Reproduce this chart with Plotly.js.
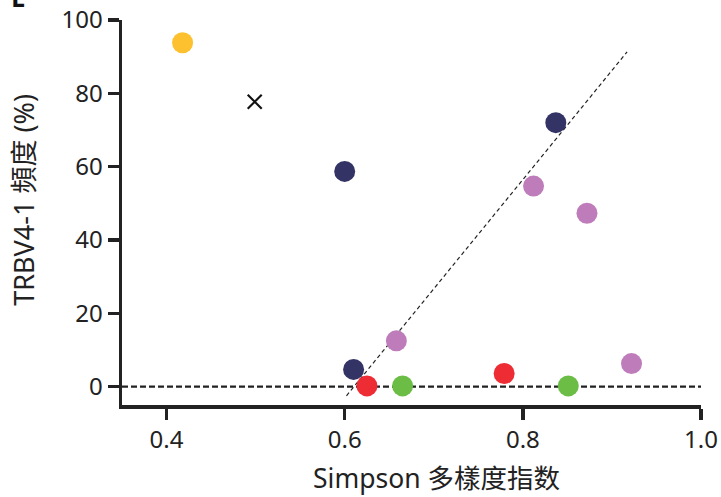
<!DOCTYPE html>
<html><head><meta charset="utf-8">
<script src="https://cdn.plot.ly/plotly-3.0.1.min.js"></script>
<style>html,body{margin:0;padding:0;background:#fff}#c{width:721px;height:497px}</style>
</head><body><div id="c"></div>
<script>
// Data
const groups = ['yellow','navy','purple','red','green'];
const colors = {yellow:'#FDC12F', navy:'#333366', purple:'#BE7DBA', red:'#EE2C34', green:'#6BBD45'};
const yellowX = [0.418];             const yellowY = [93.8];
const navyX   = [0.600, 0.837, 0.610]; const navyY   = [58.7, 72.0, 4.7];
const purpleX = [0.812, 0.872, 0.658, 0.922]; const purpleY = [54.7, 47.3, 12.5, 6.3];
const redX    = [0.625, 0.779];       const redY    = [0.2, 3.6];
const greenX  = [0.665, 0.851];       const greenY  = [0.2, 0.2];
const crossX  = [0.499];              const crossY  = [77.7];
const fitX    = [0.602, 0.917];       const fitY    = [-2.5, 91.3];
const zeroX   = [0.35, 1.0];          const zeroY   = [0, 0];
const xTicks  = [0.4, 0.6, 0.8, 1.0]; const xTickText = ['0.4','0.6','0.8','1.0'];
const yTicks  = [0, 20, 40, 60, 80, 100];
const xTitle = 'Simpson 多樣度指数';
const yTitle = 'TRBV4-1 頻度 (%)';

const series = {yellow:[yellowX,yellowY], navy:[navyX,navyY], purple:[purpleX,purpleY], red:[redX,redY], green:[greenX,greenY]};
const font = '"Noto Sans", "Noto Sans CJK TC", sans-serif';

const traces = [
  {x: zeroX, y: zeroY, mode:'lines', line:{color:'#222', width:2.2, dash:'6px,3px'}, hoverinfo:'skip'},
  {x: fitX, y: fitY, mode:'lines', line:{color:'#222', width:1.2, dash:'4px,3px'}, hoverinfo:'skip'},
  {x: crossX, y: crossY, mode:'markers', marker:{symbol:'x-thin', size:14, line:{color:'#111', width:2.2}}}
];
groups.forEach(g => {
  traces.push({x: series[g][0], y: series[g][1], mode:'markers', marker:{color:colors[g], size:21, line:{width:0}}});
});

const layout = {
  width:721, height:497, showlegend:false,
  paper_bgcolor:'#fff', plot_bgcolor:'#fff',
  margin:{l:122, r:20, t:20, b:92},
  font:{family:font, size:24, color:'#222'},
  xaxis:{range:[0.35,1.0], tickvals:xTicks, ticktext:xTickText, showgrid:false, zeroline:false,
    showline:true, linewidth:3.5, linecolor:'#222', ticks:'outside', ticklen:11, tickwidth:3.5, tickcolor:'#222',
    tickfont:{size:24}},
  yaxis:{range:[-5,100], tickvals:yTicks, showgrid:false, zeroline:false,
    showline:true, linewidth:3.5, linecolor:'#222', ticks:'outside', ticklen:11, tickwidth:3.5, tickcolor:'#222',
    tickfont:{size:24}},
  annotations:[
    {text:'<b>E</b>', xref:'paper', yref:'paper', x:-0.195, y:1.06, xanchor:'left', yanchor:'middle', showarrow:false, font:{size:26, color:'#111'}},
    {text:xTitle, xref:'paper', yref:'paper', x:0.544, y:-0.19, xanchor:'center', yanchor:'middle', showarrow:false, borderpad:0, font:{size:26.5, color:'#222'}},
    {text:yTitle, xref:'paper', yref:'paper', x:-0.170, y:0.532, xanchor:'center', yanchor:'middle', textangle:-90, showarrow:false, font:{size:27, color:'#222'}}
  ]
};
Plotly.newPlot('c', traces, layout, {staticPlot:true});
</script></body></html>
